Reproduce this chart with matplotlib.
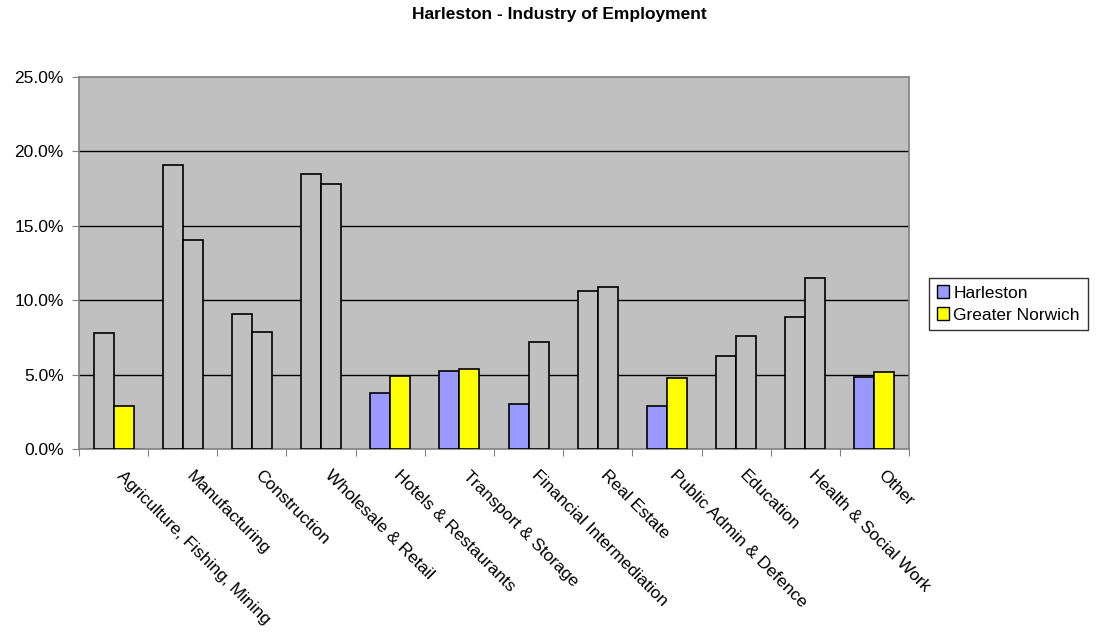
import matplotlib.pyplot as plt
import numpy as np

plt.rcParams['font.family'] = ['Liberation Sans', 'DejaVu Sans']

categories = ["Agriculture, Fishing, Mining", "Manufacturing", "Construction",
              "Wholesale & Retail", "Hotels & Restaurants", "Transport & Storage",
              "Financial Intermediation", "Real Estate", "Public Admin & Defence",
              "Education", "Health & Social Work", "Other"]
harleston = [7.78, 19.09, 9.07, 18.48, 3.79, 5.22, 3.05, 10.64, 2.91, 6.27, 8.87, 4.82]
norwich = [2.87, 14.07, 7.84, 17.83, 4.90, 5.40, 7.21, 10.86, 4.77, 7.57, 11.51, 5.20]

# some bars have no fill of their own and just show the plot background
harleston_filled = [False, False, False, False, True, True, True, False, True, False, False, True]
norwich_filled = [True, False, False, False, True, True, False, False, True, False, False, True]

bg = '#C0C0C0'
blue = '#9999FF'
yellow = '#FFFF00'
fs = 12.5

fig = plt.figure(figsize=(11.19, 6.44), dpi=100)
ax = fig.add_axes([79/1119, 1-449/644, 830/1119, 372/644])
ax.set_facecolor(bg)

x = np.arange(len(categories))
w = 0.289
hcol = [blue if f else bg for f in harleston_filled]
ncol = [yellow if f else bg for f in norwich_filled]
ax.bar(x - w/2, harleston, w, color=hcol, edgecolor='black', linewidth=1.2, zorder=3)
ax.bar(x + w/2, norwich, w, color=ncol, edgecolor='black', linewidth=1.2, zorder=3)

ax.set_xlim(-0.5, len(categories) - 0.5)
ax.set_ylim(0, 25)
yt = np.arange(0, 26, 5)
ax.set_yticks(yt)
ax.set_yticklabels(['%.1f%%' % v for v in yt], fontsize=fs)
for v in yt[1:-1]:
    ax.axhline(v, color='black', linewidth=1, zorder=1)

# category boundary ticks below the axis
ax.set_xticks(np.arange(-0.5, len(categories)))
ax.set_xticklabels([])
ax.tick_params(axis='x', direction='out', length=5, color='#808080')
ax.tick_params(axis='y', direction='out', length=5, color='#808080', pad=6)
for i, c in enumerate(categories):
    ax.annotate(c, xy=(i, 0), xycoords=('data', 'axes fraction'),
                xytext=(11, -19), textcoords='offset pixels',
                rotation=-45, ha='left', va='top', rotation_mode='anchor', fontsize=fs)

for s in ax.spines.values():
    s.set_color('#808080')
    s.set_linewidth(1.2)

# legend swatches always show the series colours
ax.bar([0], [0], color=blue, edgecolor='black', label='Harleston')
ax.bar([0], [0], color=yellow, edgecolor='black', label='Greater Norwich')
leg = ax.legend(loc='center left', bbox_to_anchor=(929/1119, 1-304/644),
                bbox_transform=fig.transFigure, fontsize=fs, frameon=True,
                fancybox=False, handlelength=0.7, handleheight=0.7,
                handletextpad=0.25, borderpad=0.45, labelspacing=0.4,
                borderaxespad=0)
leg.get_frame().set_edgecolor('black')
leg.get_frame().set_linewidth(1)

fig.text(0.5, 1-15/644, 'Harleston - Industry of Employment', ha='center', va='center',
         fontsize=fs, fontweight='bold')

fig.savefig('out.png', dpi=100)
